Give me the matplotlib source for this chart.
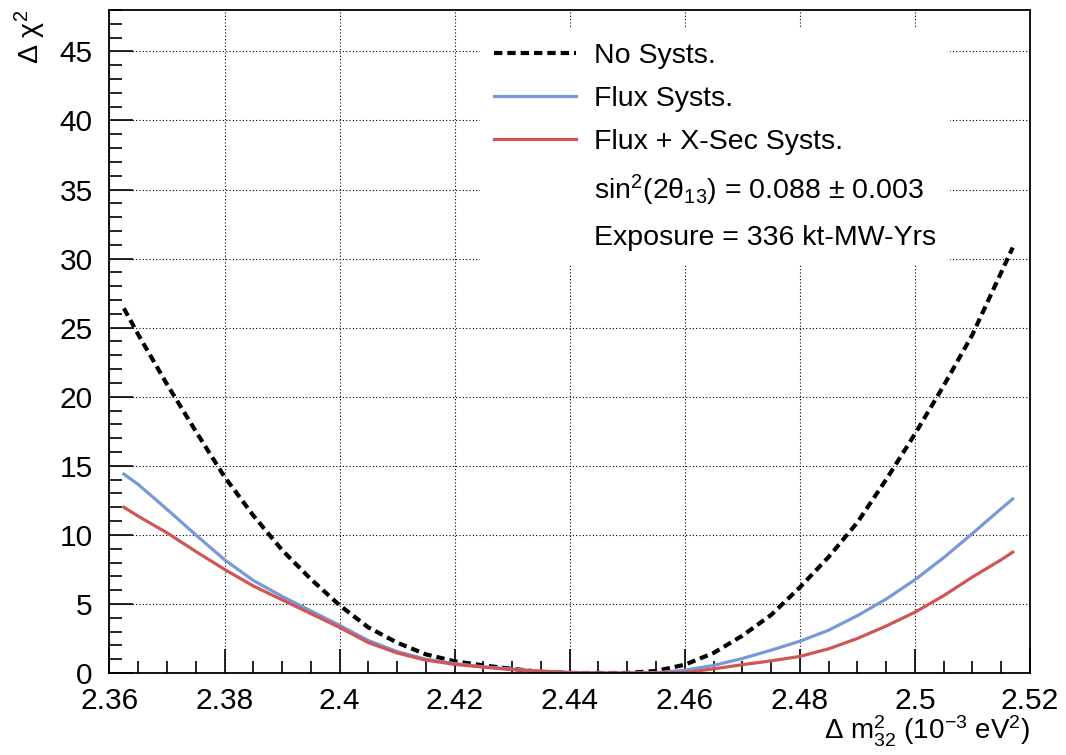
import matplotlib
matplotlib.use("Agg")
import matplotlib.pyplot as plt
from matplotlib.lines import Line2D
from matplotlib.ticker import MultipleLocator, FuncFormatter

plt.rcParams['font.family'] = ['Liberation Sans', 'DejaVu Sans']
plt.rcParams['mathtext.fontset'] = 'custom'
plt.rcParams['mathtext.rm'] = 'Liberation Sans'
plt.rcParams['mathtext.it'] = 'Liberation Sans:italic'
plt.rcParams['mathtext.default'] = 'rm'

# dm2_32 (10^-3 eV^2) and delta chi2
dm2 = [2.3625, 2.365, 2.37, 2.375, 2.38, 2.385, 2.39, 2.395, 2.40, 2.405,
       2.41, 2.415, 2.42, 2.425, 2.43, 2.435, 2.44, 2.445, 2.45, 2.455,
       2.46, 2.465, 2.47, 2.475, 2.48, 2.485, 2.49, 2.495, 2.50, 2.505,
       2.51, 2.515, 2.517]
no_systs = [26.4, 24.5, 20.9, 17.5, 14.2, 11.4, 8.9, 6.8, 4.9, 3.3,
            2.2, 1.35, 0.85, 0.55, 0.3, 0.08, 0.0, 0.0, 0.0, 0.15,
            0.6, 1.45, 2.7, 4.2, 6.2, 8.4, 10.9, 14.0, 17.3, 20.8,
            24.5, 29.0, 30.8]
flux_systs = [14.4, 13.65, 11.85, 10.0, 8.2, 6.7, 5.55, 4.5, 3.45, 2.35,
              1.55, 1.0, 0.68, 0.45, 0.28, 0.14, 0.04, 0.0, 0.0, 0.02,
              0.2, 0.55, 1.05, 1.65, 2.3, 3.1, 4.15, 5.35, 6.75, 8.35,
              10.1, 11.9, 12.6]
flux_xsec_systs = [12.0, 11.35, 10.15, 8.8, 7.5, 6.3, 5.3, 4.3, 3.3, 2.2,
                   1.45, 0.93, 0.63, 0.42, 0.25, 0.12, 0.03, 0.0, 0.0, 0.0,
                   0.03, 0.3, 0.6, 0.88, 1.2, 1.75, 2.5, 3.4, 4.4, 5.6,
                   6.95, 8.2, 8.75]

labels = ['No Systs.', 'Flux Systs.', 'Flux + X-Sec Systs.']
extra_text = [r'sin$^{2}$(2$\theta_{13}$) = 0.088 $\pm$ 0.003',
              'Exposure = 336 kt-MW-Yrs']

blue = '#7a98d8'
red = '#d05656'

fig = plt.figure(figsize=(10.66, 7.55), dpi=100)
ax = fig.add_axes([0.1027, 0.1086, 0.8635, 0.8782])

ax.plot(dm2, no_systs, color='black', lw=3.0, linestyle=(0, (2.0, 1.2)), label=labels[0])
ax.plot(dm2, flux_systs, color=blue, lw=2.3, label=labels[1])
ax.plot(dm2, flux_xsec_systs, color=red, lw=2.3, label=labels[2])

ax.set_xlim(2.36, 2.52)
ax.set_ylim(0, 48)

ax.xaxis.set_major_locator(MultipleLocator(0.02))
ax.xaxis.set_minor_locator(MultipleLocator(0.005))
ax.yaxis.set_major_locator(MultipleLocator(5))
ax.yaxis.set_minor_locator(MultipleLocator(1))
ax.xaxis.set_major_formatter(FuncFormatter(lambda v, p: '%g' % round(v, 4)))
ax.yaxis.set_major_formatter(FuncFormatter(lambda v, p: '%g' % v))

ax.tick_params(which='both', direction='in', top=False, right=False, width=1.2)
ax.tick_params(which='major', length=17, labelsize=21.5)
ax.tick_params(axis='x', which='major', pad=10)
ax.tick_params(axis='y', which='major', pad=12)
ax.tick_params(which='minor', length=9)

ax.grid(True, which='major', color='black', linestyle=(0, (1, 2)), lw=0.8)
ax.set_axisbelow(True)
for s in ax.spines.values():
    s.set_linewidth(1.3)

ax.set_xlabel(r'$\Delta$ m$^{2}_{32}$ (10$^{-3}$ eV$^{2}$)', fontsize=20, ha='right')
ax.xaxis.set_label_coords(1.0, -0.062)
ax.set_ylabel(r'$\Delta$ $\chi^{2}$', fontsize=20.5, ha='right')
ax.yaxis.set_label_coords(-0.067, 1.0)

handles, lbls = ax.get_legend_handles_labels()
for t in extra_text:
    handles.append(Line2D([], [], color='none'))
    lbls.append(t)
leg = ax.legend(handles, lbls, loc='upper left', bbox_to_anchor=(0.387, 0.993),
                fontsize=20.5, frameon=True, framealpha=1, facecolor='white',
                edgecolor='none', fancybox=False, handlelength=2.88,
                handletextpad=0.63, labelspacing=0.6, borderpad=0.5)

fig.savefig('out.png', dpi=100)
